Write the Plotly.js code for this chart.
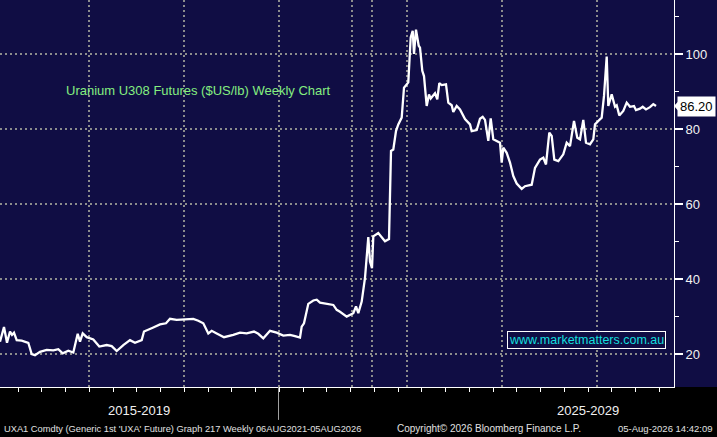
<!DOCTYPE html>
<html>
<head>
<meta charset="utf-8">
<script src="https://cdn.plot.ly/plotly-3.0.1.min.js"></script>
<style>
  html, body { margin: 0; padding: 0; background: #000; }
  #chart { width: 717px; height: 437px; }
</style>
</head>
<body>
<div id="chart"></div>
<script>
// weekly position along the time axis (0 = left edge of chart)
const weekIdx = [
  0, 4, 7, 10, 12, 14, 16.7, 21.7, 28.3, 31.7,
  35, 40, 46.7, 53.3, 58.3, 62.7, 68.3, 73.3, 77.7, 80,
  82.7, 86.7, 93.3, 99.3, 106.7, 111.7, 116.7, 123.3, 130, 135,
  141.7, 144, 153.3, 160, 166, 170, 176.7, 186.7, 193.3, 198.3,
  203.3, 208.3, 211.7, 216.7, 224, 233.3, 240, 246.7, 254, 258.3,
  263.3, 270, 276.7, 283.3, 290, 295, 300, 301.7, 304, 308.3,
  313.3, 316.7, 320, 333.3, 336.7, 340, 346.7, 353.3, 356, 358.3,
  361.7, 365, 368.3, 370, 372, 373.3, 378.3, 381.7, 385, 389,
  391, 393.3, 396, 398.3, 401.7, 404, 408.3, 410.7, 412.7, 414,
  416, 418.7, 420, 422.3, 424, 426.7, 429, 430.7, 435, 437.3,
  439.3, 441.7, 446, 448.3, 451.7, 453.3, 456.7, 460, 465, 470,
  471.7, 476.7, 480, 482.7, 485, 488.3, 490.7, 493.3, 496.7, 500,
  501.7, 503.3, 506.7, 510, 513.3, 516.7, 521.7, 525, 531.7, 535,
  540, 543.3, 546, 549.3, 551.7, 554.3, 558.3, 563.3, 566.7, 570,
  574, 577.3, 580, 583.3, 586, 590, 593.3, 595, 598.3, 601.7,
  604, 606.7, 608.3, 611.7, 615, 616.7, 619.3, 623.3, 626.7, 630,
  634, 636, 640, 642.7, 646, 650, 653.3, 656
];

// UXA1 price, $US/lb
const priceUSD = [
  23.3, 27.2, 23.0, 26.0, 25.1, 25.7, 23.7, 23.6, 23.0, 20.0,
  19.7, 20.6, 21.1, 21.0, 21.3, 20.2, 20.9, 20.4, 25.4, 23.3,
  25.5, 24.5, 23.9, 22.0, 22.4, 22.1, 20.8, 22.4, 23.7, 23.0,
  23.7, 26.0, 27.1, 27.9, 28.2, 29.4, 29.1, 29.3, 29.4, 28.9,
  28.2, 25.5, 26.2, 25.5, 24.5, 25.1, 25.7, 25.5, 26.0, 25.4,
  24.2, 26.2, 25.7, 24.9, 25.1, 24.8, 24.4, 27.3, 28.2, 33.4,
  34.3, 34.5, 33.7, 33.1, 31.8, 31.3, 30.0, 30.9, 32.7, 30.9,
  34.0, 40.3, 51.2, 44.7, 42.9, 51.4, 52.3, 51.2, 50.1, 50.7,
  74.2, 74.6, 79.5, 81.3, 83.1, 91.1, 92.5, 104.5, 106.3, 100.1,
  106.6, 102.3, 101.8, 95.6, 94.2, 86.2, 89.3, 88.2, 89.6, 88.0,
  92.3, 91.8, 92.0, 87.1, 86.4, 84.6, 86.2, 85.3, 82.7, 81.3,
  79.5, 79.8, 82.8, 83.3, 82.5, 76.9, 82.9, 77.3, 76.9, 76.4,
  71.1, 75.1, 73.7, 71.1, 67.5, 65.5, 64.1, 64.8, 65.2, 69.7,
  71.9, 72.4, 70.6, 79.1, 78.2, 71.9, 71.5, 73.3, 76.4, 75.5,
  82.2, 77.7, 77.3, 82.5, 76.4, 76.0, 77.3, 81.3, 82.2, 83.1,
  88.9, 99.4, 86.2, 89.3, 86.0, 86.4, 83.7, 84.9, 87.1, 86.0,
  86.2, 85.1, 85.5, 86.0, 85.3, 85.9, 86.7, 86.2
];

// vertical grid positions (period breaks) and price ticks
const gridWeeks = [89, 184, 278.5, 352, 372, 407, 502, 597];
const priceTicks = [20, 40, 60, 80, 100];
const periodLabels = ["2015-2019", "2025-2029"];
const periodCentres = [139, 588];
const periodBreak = 278.5;
const lastPrice = priceUSD[priceUSD.length - 1];

const navy = "#100d44";
const gridCol = "#8c8c8c";
const font = "Liberation Sans, Arial, sans-serif";
const footFont = "Liberation Sans, Arial, sans-serif";

const data = [{
  x: weekIdx,
  y: priceUSD,
  type: "scatter",
  mode: "lines",
  line: { color: "#ffffff", width: 2.3 },
  hoverinfo: "skip"
}];

const annotations = [
  {
    xref: "paper", yref: "paper", x: 0.2945, y: 0.7674,
    text: "Uranium U308 Futures ($US/lb) Weekly Chart",
    showarrow: false, xanchor: "center", yanchor: "middle",
    font: { family: font, size: 13, color: "#84ee80" }
  },
  {
    xref: "paper", yref: "paper", x: 0.870, y: 0.1227,
    text: "www.marketmatters.com.au",
    showarrow: false, xanchor: "center", yanchor: "middle",
    font: { family: font, size: 12.5, color: "#14dede" },
    bordercolor: "#ffffff", borderwidth: 1, borderpad: 1, bgcolor: navy
  },
  {
    xref: "paper", yref: "y", x: 1.0045, y: lastPrice,
    text: lastPrice.toFixed(2),
    showarrow: false, xanchor: "left", yanchor: "middle",
    font: { family: font, size: 13, color: "#000000" },
    bgcolor: "#ffffff", borderpad: 2
  },
  {
    xref: "paper", yref: "paper", x: 0.003, y: -0.1085,
    text: "UXA1 Comdty (Generic 1st 'UXA' Future) Graph 217 Weekly 06AUG2021-05AUG2026",
    showarrow: false, xanchor: "left", yanchor: "middle",
    font: { family: footFont, size: 9.3, color: "#e0e0e0" }
  },
  {
    xref: "paper", yref: "paper", x: 0.7255, y: -0.1085,
    text: "Copyright\u00a9 2026 Bloomberg Finance L.P.",
    showarrow: false, xanchor: "center", yanchor: "middle",
    font: { family: footFont, size: 10, color: "#e0e0e0" }
  },
  {
    xref: "paper", yref: "paper", x: 1.061, y: -0.1085,
    text: "05-Aug-2026 14:42:09",
    showarrow: false, xanchor: "right", yanchor: "middle",
    font: { family: footFont, size: 9.5, color: "#e0e0e0" }
  }
];

periodLabels.forEach(function (lab, i) {
  annotations.push({
    xref: "x", yref: "paper", x: periodCentres[i], y: -0.062,
    text: lab, showarrow: false, xanchor: "center", yanchor: "middle",
    font: { family: font, size: 13, color: "#f0f0f0" }
  });
});

const shapes = [
  // black footer band under the plot
  {
    type: "rect", xref: "paper", yref: "paper",
    x0: 0, x1: 1.07, y0: -0.14, y1: 0,
    fillcolor: "#000000", line: { width: 0 }, layer: "below"
  },
  // period divider in the footer
  {
    type: "line", xref: "x", yref: "paper",
    x0: periodBreak, x1: periodBreak, y0: 0, y1: -0.085,
    line: { color: "#a0a0a0", width: 1 }
  },
  // pointer of the last-price box
  {
    type: "path", xref: "paper", yref: "y",
    path: "M 1.0,"+lastPrice+" L 1.0075,"+(lastPrice+1.5)+" L 1.0075,"+(lastPrice-1.5)+" Z",
    fillcolor: "#ffffff", line: { width: 0 }
  }
];

const layout = {
  width: 717,
  height: 437,
  margin: { l: 0, r: 43, t: 0, b: 50, pad: 0 },
  paper_bgcolor: navy,
  plot_bgcolor: navy,
  showlegend: false,
  xaxis: {
    range: [0, 674],
    tickmode: "array",
    tickvals: gridWeeks,
    showticklabels: false,
    ticks: "",
    showgrid: true,
    gridcolor: gridCol,
    gridwidth: 2,
    griddash: "2px,3px",
    zeroline: false,
    showline: true,
    linecolor: "#ffffff",
    linewidth: 1,
    minor: {
      tickmode: "linear", tick0: 18, dtick: 23.75,
      ticks: "outside", ticklen: 4, tickwidth: 1, tickcolor: "#ffffff",
      showgrid: false
    }
  },
  yaxis: {
    side: "right",
    range: [11.2, 114.5],
    tickmode: "array",
    tickvals: priceTicks,
    ticks: "outside",
    ticklen: 8,
    tickwidth: 2,
    tickcolor: "#ffffff",
    tickfont: { family: font, size: 13, color: "#f2f2f2" },
    showgrid: true,
    gridcolor: gridCol,
    gridwidth: 2,
    griddash: "2px,3px",
    zeroline: false,
    showline: true,
    linecolor: "#ffffff",
    linewidth: 1,
    minor: {
      tickmode: "linear", tick0: 10, dtick: 10,
      ticks: "outside", ticklen: 4, tickwidth: 1, tickcolor: "#ffffff",
      showgrid: false
    }
  },
  annotations: annotations,
  shapes: shapes
};

Plotly.newPlot("chart", data, layout, { displayModeBar: false, staticPlot: true });
</script>
</body>
</html>
